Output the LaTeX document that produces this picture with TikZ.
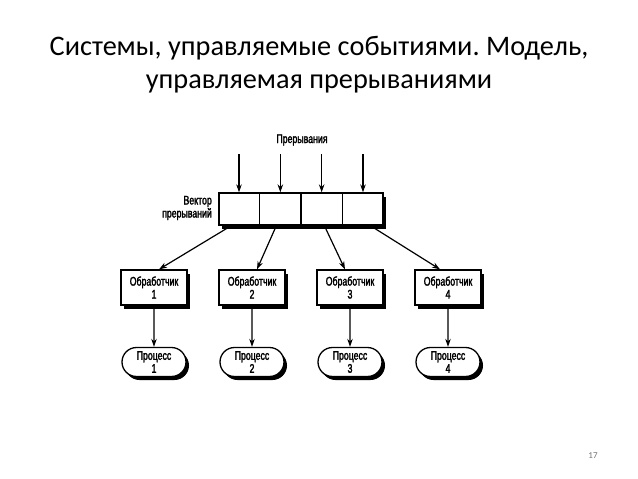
\documentclass[tikz,border=0pt]{standalone}
\usepackage{fontspec}
\setmainfont{Carlito}
\newfontfamily\diag[FakeStretch=0.7,FakeBold=2]{Liberation Sans}
\usetikzlibrary{shadows,shapes.misc,arrows.meta,calc}
\frenchspacing
\begin{document}
\begin{tikzpicture}[x=1pt,y=-1pt,
  shadowed/.style={drop shadow={shadow xshift=3pt,shadow yshift=-3.5pt,fill=black,opacity=1}},
  dfont/.style={font=\diag\fontsize{12.5}{13}\selectfont},
  handler/.style={draw,fill=white,line width=1.3pt,minimum width=66pt,minimum height=35pt,inner sep=1pt,align=center,dfont,shadowed},
  proc/.style={draw,fill=white,rounded rectangle,line width=1.3pt,minimum width=66pt,minimum height=29pt,inner sep=1pt,align=center,dfont,shadowed},
  lbl/.style={dfont,inner sep=0pt},
  arr/.style={line width=1.2pt,-{Stealth[length=8pt,width=5.5pt]}},
  title/.style={font=\fontsize{28.3}{33}\selectfont,inner sep=0pt,anchor=base}]
\useasboundingbox (0,0) rectangle (638,479);
\fill[white] (0,0) rectangle (638,479);
% title
\node[title] (t1) at (319,55) {Системы, управляемые событиями. Модель,};
\node[title] (t2) at (319,88) {управляемая прерываниями};
% interrupts label
\node[lbl] (intr) at (302,140) {Прерывания};
% vector
\node[draw,fill=white,line width=1.3pt,minimum width=164pt,minimum height=32pt,inner sep=0pt,shadowed] (vec) at (301,209) {};
\foreach \i in {1,2,3}{
  \draw[line width=1.3pt] ($(vec.north west)!\i/4!(vec.north east)$) -- ($(vec.south west)!\i/4!(vec.south east)$);
}
\node[lbl,anchor=east,align=right] (veclbl) at (212,208) {Вектор\\прерываний};
\foreach \i/\f in {1/0.125,2/0.375,3/0.625,4/0.875}{
  \coordinate (c\i) at ($(vec.north west)!\f!(vec.north east)$);
  \coordinate (s\i) at ($(c\i)+(0,-38)$);
  \draw[arr] (s\i) -- (c\i);
}
% handlers
\foreach \i/\x in {1/154,2/252,3/350,4/448}{
  \node[handler] (h\i) at (\x,287.5) {Обработчик\\\i};
  \node[proc] (p\i) at (\x,362) {Процесс\\\i};
  \draw[arr] (h\i) -- (p\i);
}
\coordinate (o1) at ($(vec.south west)+(13,0)$);
\coordinate (o2) at ($(vec.south west)+(58,0)$);
\coordinate (o3) at ($(vec.south west)+(106,0)$);
\coordinate (o4) at ($(vec.south west)+(152,0)$);
\draw[arr] (o1) -- ($(h1.north)+(5,0)$);
\draw[arr] (o2) -- ($(h2.north)+(5,0)$);
\draw[arr] (o3) -- ($(h3.north)+(-5,0)$);
\draw[arr] (o4) -- ($(h4.north)+(-8,0)$);
% page number
\node[font=\fontsize{9}{10}\selectfont,text=black!55,inner sep=0pt] (pg) at (593,456) {17};
\end{tikzpicture}
\end{document}
